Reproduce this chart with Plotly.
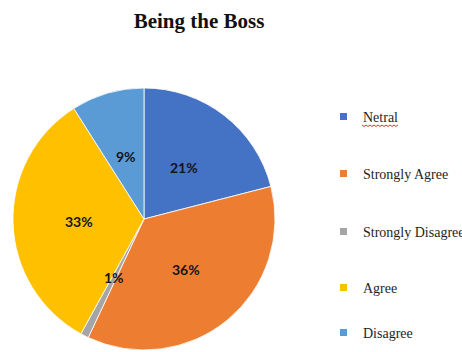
import math
import plotly.graph_objects as go

# Survey responses
labels = ["Netral", "Strongly Agree", "Strongly Disagree", "Agree", "Disagree"]
values = [21, 36, 1, 33, 9]
colors = ["#4472C4", "#ED7D31", "#A5A5A5", "#FFC000", "#5B9BD5"]

W, H = 462, 352
CX, CY, R = 144, 219, 131  # pie centre and radius in pixels


def px(x):
    return x / W


def py(y):
    return 1 - y / H


fig = go.Figure(
    go.Pie(
        labels=labels,
        values=values,
        marker=dict(colors=colors, line=dict(color="white", width=0.8)),
        sort=False,
        direction="clockwise",
        rotation=0,
        textinfo="none",
        showlegend=False,
        domain=dict(x=[px(CX - R), px(CX + R)], y=[py(CY + R), py(CY - R)]),
    )
)

annotations = []
shapes = []

# Percentage labels at half radius along each slice's bisector
total = sum(values)
cum = 0
for v in values:
    ang = 2 * math.pi * (cum + v / 2) / total
    cum += v
    lx = CX + 0.5 * R * math.sin(ang)
    ly = CY - 0.5 * R * math.cos(ang)
    annotations.append(dict(
        x=px(lx), y=py(ly), xref="paper", yref="paper",
        text=f"<b>{round(100 * v / total)}%</b>", showarrow=False,
        xanchor="center", yanchor="middle",
        font=dict(family="Lato", size=14, color="#141420"),
    ))

# Legend drawn as coloured squares plus serif labels
row_y = [117, 174, 232, 288, 333]
for name, col, ry in zip(labels, colors, row_y):
    shapes.append(dict(
        type="rect", xref="paper", yref="paper",
        x0=px(340), x1=px(347), y0=py(ry - 4), y1=py(ry + 3),
        fillcolor=col, line=dict(width=0),
    ))
    annotations.append(dict(
        x=px(361), y=py(ry), xref="paper", yref="paper",
        text=name, showarrow=False, xanchor="left", yanchor="middle",
        font=dict(family="Liberation Serif", size=14, color="#1e1e1e"),
    ))

# Spell-check squiggle under "Netral"
pts = []
x = 362
i = 0
while x <= 399:
    yy = 125.5 + (1 if i % 2 else -0.5)
    pts.append(f"{px(x):.5f},{py(yy):.5f}")
    x += 2
    i += 1
shapes.append(dict(
    type="path", xref="paper", yref="paper",
    path="M" + " L".join(pts), line=dict(color="#e03030", width=1),
))

fig.update_layout(
    width=W, height=H,
    margin=dict(l=0, r=0, t=0, b=0),
    paper_bgcolor="white",
    title=dict(
        text="<b>Being the Boss</b>", x=px(199), y=py(21),
        xanchor="center", yanchor="middle",
        font=dict(family="Liberation Serif", size=21, color="#111111"),
    ),
    annotations=annotations,
    shapes=shapes,
)

fig.write_html("out.html")
